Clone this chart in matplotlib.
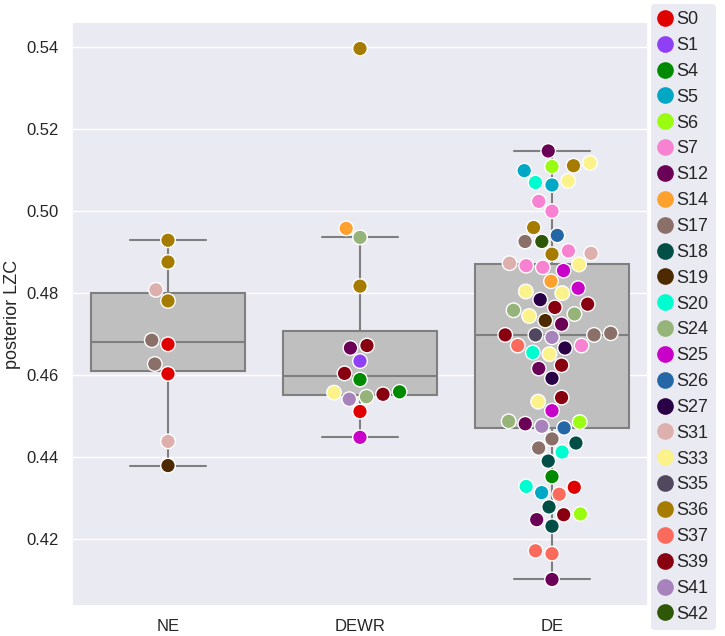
import numpy as np
import pandas as pd
import matplotlib
matplotlib.use("Agg")
import matplotlib.pyplot as plt
from matplotlib.lines import Line2D
import seaborn as sns

sns.set_theme(style="darkgrid")
plt.rcParams["font.family"] = ["Liberation Sans", "DejaVu Sans"]

groups = ["NE", "DEWR", "DE"]

subjects = ["S0", "S1", "S4", "S5", "S6", "S7", "S12", "S14", "S17", "S18", "S19", "S20",
            "S24", "S25", "S26", "S27", "S31", "S33", "S35", "S36", "S37", "S39", "S41", "S42"]
subject_colors = ["#e00000", "#8f3ff5", "#008a00", "#00a8c6", "#9afc10", "#f882d2", "#6b0057",
                  "#ffa12f", "#8a7068", "#004e45", "#4d2a00", "#00fdcf", "#96b47a", "#c800c8",
                  "#2466a6", "#2a0047", "#ddb0ae", "#fcf28a", "#514860", "#a67c00", "#fa6b5e",
                  "#880010", "#a882ba", "#2f5708"]

ne_subj = ["S36", "S36", "S31", "S36", "S17", "S0", "S17", "S0", "S31", "S19"]
ne_vals = [0.4929, 0.4876, 0.4808, 0.4781, 0.4685, 0.4675, 0.4627, 0.4603, 0.4438, 0.4379]

dewr_subj = ["S36", "S14", "S24", "S36", "S39", "S12", "S1", "S39", "S4", "S4", "S33", "S39",
             "S24", "S41", "S0", "S25"]
dewr_vals = [0.5397, 0.4958, 0.4936, 0.4817, 0.4672, 0.4666, 0.4634, 0.4604, 0.4589, 0.4559,
             0.4557, 0.4553, 0.4547, 0.4541, 0.4511, 0.4448]

de_subj = ["S12", "S5", "S6", "S36", "S33", "S20", "S5", "S33", "S7", "S7",
           "S36", "S26", "S17", "S42", "S31", "S36", "S7", "S33", "S7", "S25",
           "S7", "S31", "S14", "S25", "S33", "S33", "S27", "S39", "S39", "S24",
           "S33", "S19", "S24", "S12", "S39", "S17", "S41", "S35", "S17", "S37",
           "S27", "S33", "S20", "S7", "S12", "S39", "S27", "S33", "S39", "S25",
           "S24", "S12", "S26", "S41", "S6", "S17", "S17", "S18", "S20", "S18",
           "S4", "S20", "S5", "S37", "S0", "S18", "S39", "S6", "S12", "S18",
           "S37", "S37", "S12"]
de_vals = [0.5147, 0.5099, 0.5109, 0.5111, 0.5118, 0.5070, 0.5064, 0.5074, 0.5024, 0.5000,
           0.4960, 0.4941, 0.4926, 0.4926, 0.4897, 0.4895, 0.4903, 0.4870, 0.4867, 0.4855,
           0.4863, 0.4873, 0.4829, 0.4812, 0.4800, 0.4804, 0.4784, 0.4773, 0.4765, 0.4758,
           0.4744, 0.4733, 0.4749, 0.4724, 0.4698, 0.4702, 0.4692, 0.4698, 0.4698, 0.4672,
           0.4666, 0.4651, 0.4655, 0.4672, 0.4616, 0.4624, 0.4592, 0.4535, 0.4545, 0.4513,
           0.4487, 0.4481, 0.4471, 0.4475, 0.4485, 0.4444, 0.4422, 0.4434, 0.4412, 0.4390,
           0.4352, 0.4328, 0.4313, 0.4309, 0.4326, 0.4278, 0.4259, 0.4261, 0.4247, 0.4231,
           0.4171, 0.4164, 0.4101]

df = pd.DataFrame({
    "cond": ["NE"] * len(ne_vals) + ["DEWR"] * len(dewr_vals) + ["DE"] * len(de_vals),
    "subj": ne_subj + dewr_subj + de_subj,
    "lzc": ne_vals + dewr_vals + de_vals,
})
palette = dict(zip(subjects, subject_colors))

fig = plt.figure(figsize=(7.25, 6.36), dpi=100)
ax = fig.add_axes([72 / 725, 30 / 636, 576 / 725, 584 / 636])

sns.boxplot(data=df, x="cond", y="lzc", order=groups, color="#bfbfbf", linecolor="#7f7f7f",
            showfliers=False, width=0.8, linewidth=1.5, ax=ax)
sns.swarmplot(data=df, x="cond", y="lzc", order=groups, hue="subj", hue_order=subjects,
              palette=palette, size=10.5, edgecolor="white", linewidth=1, ax=ax, legend=False)

ax.set_xlabel("")
ax.set_ylabel("posterior LZC", fontsize=13)
ax.tick_params(axis="both", labelsize=12)

handles = [Line2D([], [], marker="o", ls="", color=c, markersize=12, markeredgewidth=0)
           for c in subject_colors]
fig.legend(handles, subjects, loc="upper left", bbox_to_anchor=(651 / 725, 1 - 4 / 636),
           borderaxespad=0, fontsize=13, handlelength=0.8, handletextpad=0.2,
           labelspacing=0.49, borderpad=0.4, frameon=True, facecolor="#eaeaf2",
           edgecolor="none", framealpha=1)

fig.savefig("out.png", dpi=100)
